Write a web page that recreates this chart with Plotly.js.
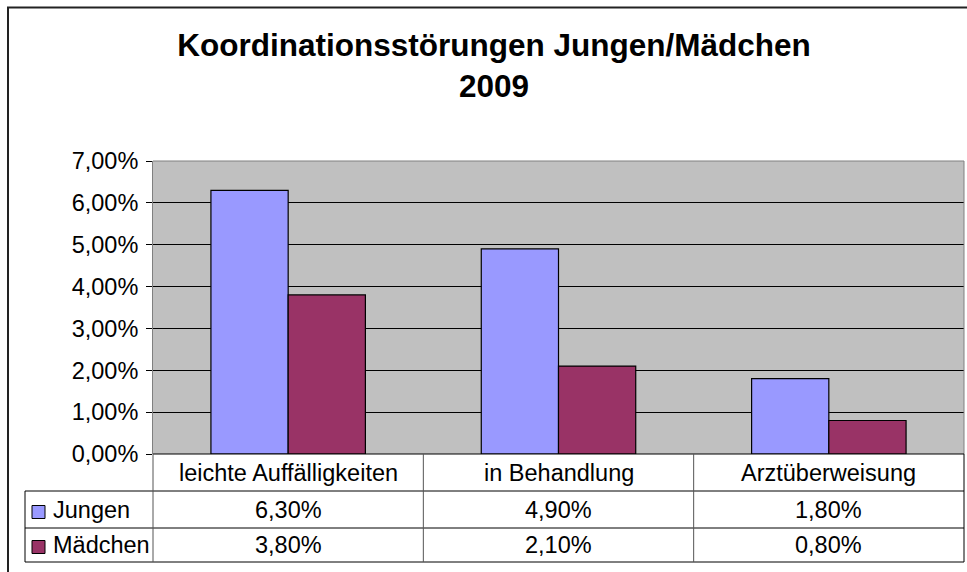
<!DOCTYPE html>
<html>
<head>
<meta charset="utf-8">
<script src="https://cdn.plot.ly/plotly-3.0.1.min.js"></script>
<style>html,body{margin:0;padding:0;background:#fff;}#chart{width:967px;height:572px;}</style>
</head>
<body>
<div id="chart"></div>
<script>
// ---- data ----
var categories = ['leichte Auffälligkeiten', 'in Behandlung', 'Arztüberweisung'];
var seriesNames = ['Jungen', 'Mädchen'];
var jungen = [0.063, 0.049, 0.018];
var maedchen = [0.038, 0.021, 0.008];
var yTickVals = [0, 0.01, 0.02, 0.03, 0.04, 0.05, 0.06, 0.07];

// ---- geometry helpers (pixel layout of the frame) ----
var W = 967, H = 572;
var PL = 153, PR = 964, PT = 161, PB = 454;
function px(x) { return (x - PL) / (PR - PL); }
function py(y) { return (PB - y) / (PB - PT); }

var colors = ['#9999FF', '#993366'];
var FONT = 'Liberation Sans, Arial, sans-serif';
var fs = 23.5;

function fmt(v) { return (v * 100).toFixed(2).replace('.', ',') + '%'; }

var traces = [
  { type: 'bar', name: seriesNames[0], x: categories, y: jungen,
    marker: { color: colors[0], line: { color: '#000', width: 1.2 } }, hoverinfo: 'x+y' },
  { type: 'bar', name: seriesNames[1], x: categories, y: maedchen,
    marker: { color: colors[1], line: { color: '#000', width: 1.2 } }, hoverinfo: 'x+y' }
];

var shapes = [];
var annotations = [];
function hline(y, x0, x1, c) {
  shapes.push({ type: 'line', xref: 'paper', yref: 'paper', x0: px(x0), x1: px(x1), y0: py(y), y1: py(y),
    line: { color: c || '#000', width: 1 } });
}
function vline(x, y0, y1, c) {
  shapes.push({ type: 'line', xref: 'paper', yref: 'paper', x0: px(x), x1: px(x), y0: py(y0), y1: py(y1),
    line: { color: c || '#000', width: 1 } });
}
// outer frame
shapes.push({ type: 'rect', xref: 'paper', yref: 'paper', x0: px(8), x1: px(1000), y0: py(620), y1: py(7.5),
  line: { color: '#222', width: 2 } });
// plot border (grey, top/right)
hline(PT, PL, PR, '#808080');
vline(PR, PT, PB, '#808080');
// table
hline(PB, PL, PR, '#000');
hline(491, 25, PR, '#000');
hline(528, 25, PR, '#000');
hline(562, 25, PR, '#000');
vline(25, 491, 562, '#000');
vline(PL, PB, 562, '#555');
var colW = (PR - PL) / categories.length;
for (var i = 1; i < categories.length; i++) vline(PL + colW * i, PB, 562, '#555');
vline(PR, PB, 562, '#000');

// header texts
var rowCenters = [472.5, 510, 545];
categories.forEach(function (c, i) {
  annotations.push({ xref: 'x', yref: 'paper', x: c, y: py(rowCenters[0]), text: c, showarrow: false,
    xanchor: 'center', yanchor: 'middle', font: { family: FONT, size: fs, color: '#000' } });
});
var seriesVals = [jungen, maedchen];
seriesVals.forEach(function (vals, s) {
  vals.forEach(function (v, i) {
    annotations.push({ xref: 'x', yref: 'paper', x: categories[i], y: py(rowCenters[s + 1]), text: fmt(v),
      showarrow: false, xanchor: 'center', yanchor: 'middle', font: { family: FONT, size: fs, color: '#000' } });
  });
  // legend key
  var cy = rowCenters[s + 1] + 2;
  shapes.push({ type: 'rect', xref: 'paper', yref: 'paper', x0: px(32), x1: px(45), y0: py(cy + 6.5), y1: py(cy - 6.5),
    fillcolor: colors[s], line: { color: '#000', width: 1 } });
  annotations.push({ xref: 'paper', yref: 'paper', x: px(51), y: py(rowCenters[s + 1]), text: seriesNames[s],
    showarrow: false, xanchor: 'left', yanchor: 'middle', font: { family: FONT, size: fs, color: '#000' } });
});

var layout = {
  width: W, height: H,
  margin: { l: PL, r: W - PR, t: PT, b: H - PB, pad: 0 },
  paper_bgcolor: '#fff',
  plot_bgcolor: '#C0C0C0',
  separators: ',.',
  showlegend: false,
  barmode: 'group',
  bargap: 0.4286,
  bargroupgap: 0,
  title: {
    text: 'Koordinationsstörungen Jungen/Mädchen<br>2009',
    font: { family: FONT, size: 31.5, weight: 'bold', color: '#000' },
    xref: 'container', x: 494 / W, xanchor: 'center',
    yref: 'container', y: 1 - 56 / H, yanchor: 'middle'
  },
  xaxis: { showticklabels: false, showgrid: false, zeroline: false, showline: false, ticks: '', fixedrange: true },
  yaxis: {
    range: [0, 0.07], tickvals: yTickVals, tickformat: '.2%',
    showgrid: true, gridcolor: '#000', gridwidth: 1, zeroline: false,
    showline: true, linecolor: '#808080', linewidth: 1,
    ticks: 'outside', ticklen: 6, tickcolor: '#000', tickwidth: 1, ticklabelstandoff: 3,
    tickfont: { family: FONT, size: fs, color: '#000' }, fixedrange: true
  },
  shapes: shapes,
  annotations: annotations
};

Plotly.newPlot('chart', traces, layout, { displayModeBar: false, staticPlot: true });
</script>
</body>
</html>
